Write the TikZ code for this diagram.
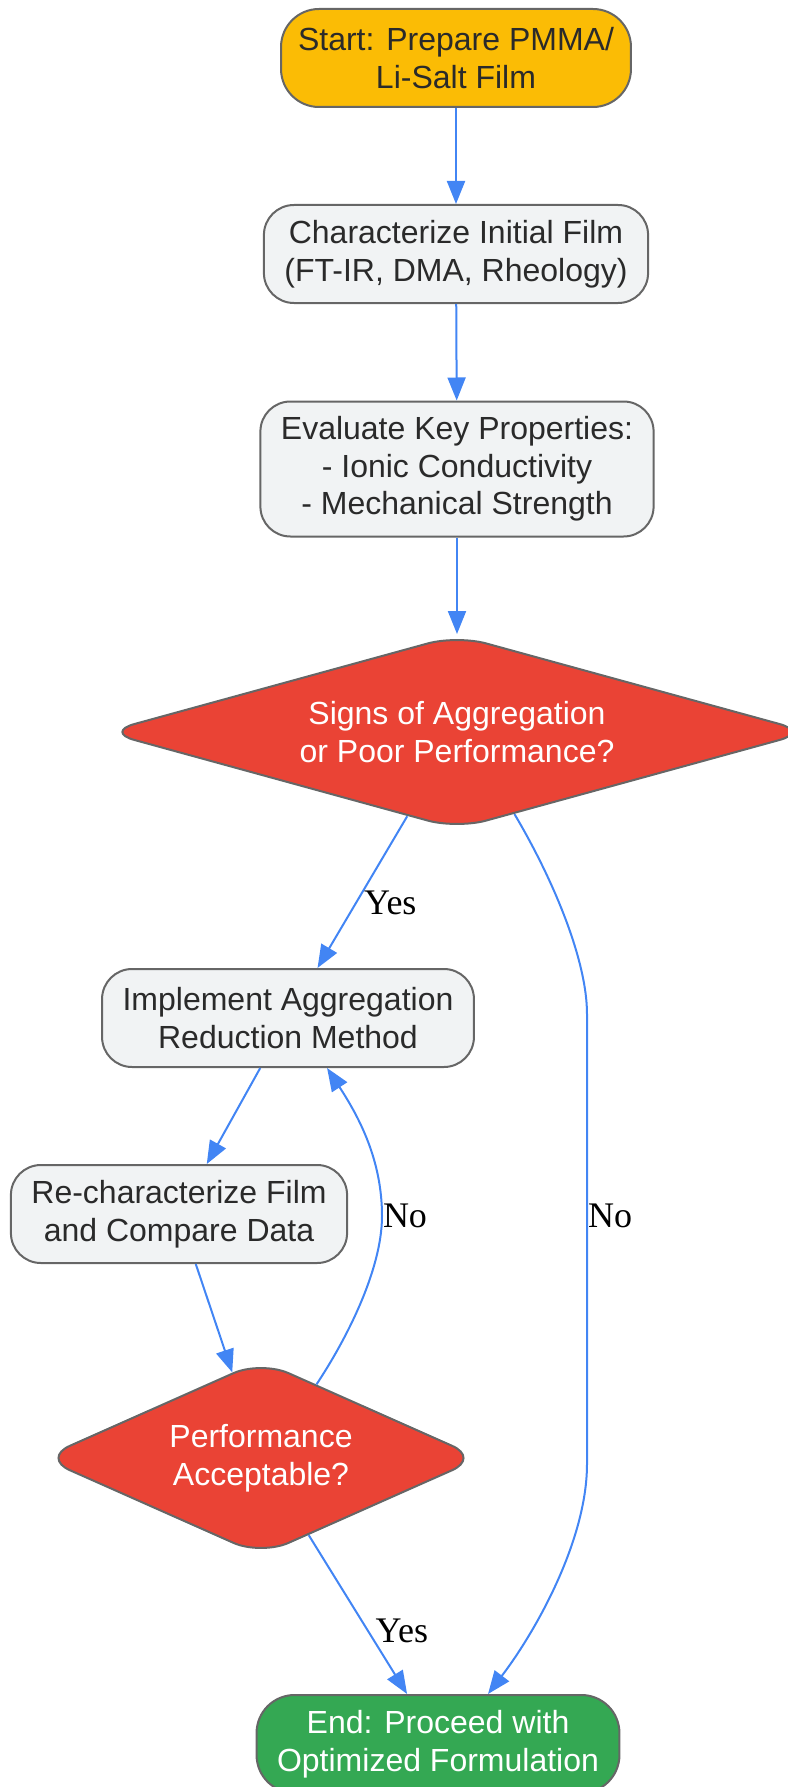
\documentclass[tikz,border=0pt]{standalone}
\usepackage{fontspec}
\setmainfont{Liberation Serif}
\setsansfont{Liberation Sans}
\usetikzlibrary{shapes.geometric,arrows.meta}
\definecolor{flowblue}{HTML}{4285F4}
\definecolor{edgegray}{HTML}{666666}
\definecolor{startyellow}{HTML}{FBBC05}
\definecolor{procgray}{HTML}{F1F3F4}
\definecolor{decred}{HTML}{EA4335}
\definecolor{endgreen}{HTML}{34A853}
\definecolor{txtdark}{HTML}{2A2A2A}

\begin{document}
\begin{tikzpicture}[x=1pt,y=-1pt,line width=2pt,>={Triangle[length=23pt,width=18pt]},
procbox/.style={draw=edgegray,fill=procgray,rectangle,rounded corners=30pt,align=center,inner xsep=20.5pt,inner ysep=0pt,minimum height=98pt,text=txtdark,font=\sffamily\fontsize{32}{37.5}\selectfont,execute at begin node={\rule{0pt}{31pt}}},
startbox/.style={procbox,fill=startyellow,rounded corners=38pt,inner xsep=17pt},
endbox/.style={procbox,fill=endgreen,text=white,rounded corners=38pt},
decbox/.style={draw=edgegray,fill=decred,diamond,aspect=3.6,rounded corners=30pt,align=center,inner sep=0pt,text=white,font=\sffamily\fontsize{32}{37.5}\selectfont,execute at begin node={\rule{0pt}{28pt}}},
flow/.style={draw=flowblue,->},
lbl/.style={inner sep=0pt,text=black,font=\fontsize{36}{40}\selectfont}]

\useasboundingbox (0,0) rectangle (787,1787);

\draw (456,58) node[startbox] (start) {Start: Prepare PMMA/\\Li-Salt Film};
\draw (456,254) node[procbox] (char) {Characterize Initial Film\\(FT-IR, DMA, Rheology)};
\draw (457,469) node[procbox,minimum height=135pt] (eval) {Evaluate Key Properties:\\- Ionic Conductivity\\- Mechanical Strength};
\draw (457,732) node[decbox,minimum width=704pt,minimum height=194pt] (dec1) {Signs of Aggregation\\or Poor Performance?};
\draw (288,1018) node[procbox] (impl) {Implement Aggregation\\Reduction Method};
\draw (179,1214) node[procbox] (rechar) {Re-characterize Film\\and Compare Data};
\draw (261,1458) node[decbox,minimum width=438pt,minimum height=195pt] (dec2) {Performance\\Acceptable?};
\draw (438,1744) node[endbox] (finish) {End: Proceed with\\Optimized Formulation};

\draw[flow] (start) -- (char);
\draw[flow] (char) -- (eval);
\draw[flow] (eval) -- (dec1);
\draw[flow] (dec1) -- node[lbl,pos=.57,right=7pt] {Yes} (impl);
\draw[flow] (dec1.-55) .. controls (553,879) and (587,960) .. (587,1014) -- (587,1216) node[lbl,right] {No} -- (587,1464) .. controls (587,1540) and (536,1631) .. (finish.45);
\draw[flow] (impl) -- (rechar);
\draw[flow] (rechar) -- (dec2);
\draw[flow] (dec2.53) .. controls (346,1340) and (382,1270) .. (382,1216) node[lbl,right] {No} .. controls (382,1160) and (359,1117) .. (impl.-52);
\draw[flow] (dec2) -- node[lbl,pos=.6,right=7pt] {Yes} (finish);

\end{tikzpicture}
\end{document}
